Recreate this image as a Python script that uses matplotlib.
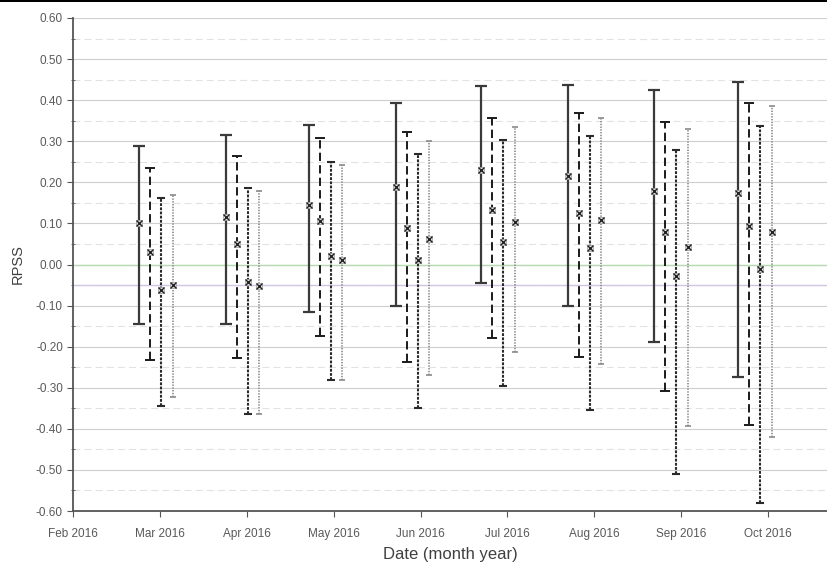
import matplotlib
matplotlib.use("Agg")
import matplotlib.pyplot as plt
import numpy as np
from matplotlib.ticker import MultipleLocator, FormatStrFormatter

plt.rcParams["font.family"] = ["Liberation Sans", "DejaVu Sans"]
plt.rcParams["axes.unicode_minus"] = False
plt.rcParams["lines.scale_dashes"] = False

month_labels = ["Feb 2016", "Mar 2016", "Apr 2016", "May 2016", "Jun 2016",
                "Jul 2016", "Aug 2016", "Sep 2016", "Oct 2016"]

# position of each forecast group, in months after 1 Feb 2016
group_pos = [0.757, 1.759, 2.715, 3.717, 4.697, 5.699, 6.690, 7.658]

# four series (mean RPSS with upper / lower bounds)
mid_1 = [0.101, 0.116, 0.146, 0.188, 0.229, 0.216, 0.180, 0.174]
top_1 = [0.288, 0.314, 0.339, 0.392, 0.434, 0.438, 0.425, 0.445]
low_1 = [-0.144, -0.144, -0.115, -0.102, -0.046, -0.102, -0.189, -0.273]

mid_2 = [0.030, 0.051, 0.107, 0.088, 0.133, 0.126, 0.080, 0.093]
top_2 = [0.235, 0.265, 0.308, 0.322, 0.356, 0.369, 0.348, 0.393]
low_2 = [-0.233, -0.228, -0.174, -0.237, -0.178, -0.226, -0.309, -0.391]

mid_3 = [-0.063, -0.043, 0.020, 0.010, 0.055, 0.041, -0.028, -0.010]
top_3 = [0.162, 0.185, 0.249, 0.268, 0.303, 0.313, 0.279, 0.336]
low_3 = [-0.345, -0.363, -0.281, -0.350, -0.296, -0.355, -0.511, -0.580]

mid_4 = [-0.049, -0.053, 0.012, 0.061, 0.104, 0.108, 0.043, 0.080]
top_4 = [0.170, 0.178, 0.241, 0.300, 0.334, 0.357, 0.331, 0.387]
low_4 = [-0.323, -0.363, -0.281, -0.268, -0.212, -0.242, -0.393, -0.420]

series = [(mid_1, top_1, low_1), (mid_2, top_2, low_2),
          (mid_3, top_3, low_3), (mid_4, top_4, low_4)]

# horizontal shift of each series inside a group, and line looks
shifts = [0.0, 0.127, 0.254, 0.386]
styles = [
    dict(color="#3a3a3a", lw=1.6, ls="-", cap=4),
    dict(color="#1a1a1a", lw=1.4, ls=(0, (6, 3)), cap=3.5),
    dict(color="#2a2a2a", lw=1.5, ls=(0, (2, 1)), cap=3),
    dict(color="#8a8a8a", lw=1.2, ls=(0, (1, 1)), cap=2.5),
]

fig = plt.figure(figsize=(8.27, 5.70), dpi=100)
ax = fig.add_axes([73.3 / 827, 1 - 511 / 570, 1 - 73.3 / 827, (511 - 18) / 570])

ax.set_xlim(0, 8.683)
ax.set_ylim(-0.6, 0.6)

ax.yaxis.set_major_locator(MultipleLocator(0.1))
ax.yaxis.set_minor_locator(MultipleLocator(0.05))
ax.yaxis.set_major_formatter(FormatStrFormatter("%.2f"))
ax.grid(True, which="major", axis="y", color="#cfcfcf", lw=0.8, ls="-")
ax.grid(True, which="minor", axis="y", color="#e2e2e2", lw=0.8, ls=(0, (5, 3)))
ax.set_axisbelow(True)

ax.axhline(0.0, color="#b5dcae", lw=1.0, zorder=1)
ax.axhline(-0.05, color="#d3c5e2", lw=1.0, zorder=1)

for (mid, top, low), dx, st in zip(series, shifts, styles):
    mid = np.array(mid)
    x = np.array(group_pos) + dx
    err = [mid - np.array(low), np.array(top) - mid]
    eb = ax.errorbar(x, mid, yerr=err, fmt="none", ecolor=st["color"],
                     elinewidth=st["lw"], capsize=st["cap"], capthick=st["lw"], zorder=3)
    eb[2][0].set_linestyle(st["ls"])
    ax.plot(x, mid, "s", ms=5, mfc="#e0e0e0", mec="#9a9a9a", mew=0.5, zorder=4)
    ax.plot(x, mid, "x", ms=4, color="#222222", mew=1.0, zorder=5)

ax.set_xticks(np.arange(len(month_labels)))
ax.set_xticklabels(month_labels)

for side in ["top", "right"]:
    ax.spines[side].set_visible(False)
for side in ["left", "bottom"]:
    ax.spines[side].set_color("#555555")
    ax.spines[side].set_linewidth(1.3)

ax.tick_params(axis="both", which="major", labelsize=8.5, labelcolor="#595959",
               color="#555555", length=4, direction="out")
ax.tick_params(axis="y", which="minor", length=3, color="#555555", direction="inout")
ax.tick_params(axis="x", which="major", pad=8)

ax.set_ylabel("RPSS", fontsize=10.5, color="#404040", labelpad=8)
ax.set_xlabel("Date (month year)", fontsize=12, color="#404040", labelpad=5)

fig.add_artist(plt.Rectangle((0, 1 - 2 / 570), 1, 2 / 570, transform=fig.transFigure,
                             color="black", lw=0))

fig.savefig("out.png", dpi=100)
